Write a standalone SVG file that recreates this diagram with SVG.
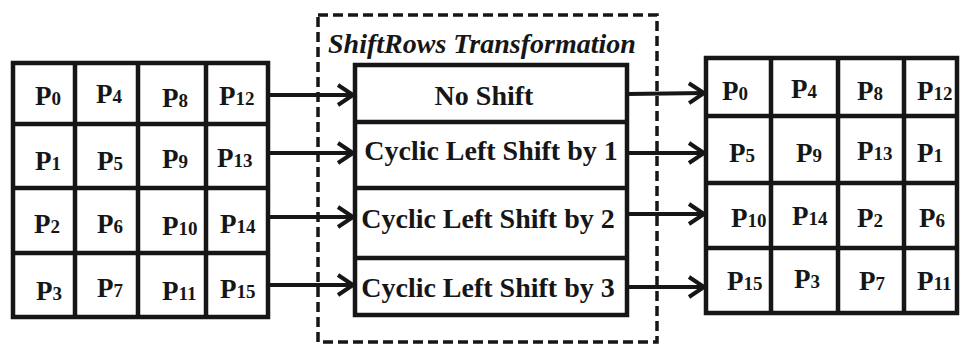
<svg xmlns="http://www.w3.org/2000/svg" width="961" height="345" viewBox="0 0 961 345">
<style>
.bg{fill:#ffffff}
.grid{fill:#ffffff;stroke:#161616;stroke-width:4.5}
.div{stroke:#161616;stroke-width:4.5}
.dash{fill:none;stroke:#161616;stroke-width:3.5;stroke-dasharray:10 5}
.conn{stroke:#161616;stroke-width:4;fill:none}
.p{font-family:"Liberation Serif","Times New Roman",serif;font-weight:bold;font-size:27px;fill:#161616}
.p tspan{font-size:19px}
.lbl{font-family:"Liberation Serif","Times New Roman",serif;font-weight:bold;font-size:28px;fill:#161616;text-anchor:middle}
.title{font-family:"Liberation Serif","Times New Roman",serif;font-weight:bold;font-style:italic;font-size:28px;fill:#161616}
</style>
<defs>
<marker id="ah" markerWidth="24" markerHeight="26" refX="19" refY="12" orient="auto" markerUnits="userSpaceOnUse">
<path d="M3,2 L18,12 L3,22" fill="none" stroke="#161616" stroke-width="4"/>
</marker>
</defs>
<rect class="bg" x="0" y="0" width="961" height="345"/>

<g id="input-state">
<rect class="grid" x="13" y="63" width="255" height="254"/>
<line class="div" x1="75" y1="63" x2="75" y2="317"/>
<line class="div" x1="138" y1="63" x2="138" y2="317"/>
<line class="div" x1="206" y1="63" x2="206" y2="317"/>
<line class="div" x1="13" y1="124" x2="268" y2="124"/>
<line class="div" x1="13" y1="188" x2="268" y2="188"/>
<line class="div" x1="13" y1="253" x2="268" y2="253"/>
<text class="p" x="35" y="105">P<tspan>0</tspan></text>
<text class="p" x="96" y="103">P<tspan>4</tspan></text>
<text class="p" x="162" y="107">P<tspan>8</tspan></text>
<text class="p" x="219" y="105">P<tspan>12</tspan></text>
<text class="p" x="35" y="170">P<tspan>1</tspan></text>
<text class="p" x="97" y="170">P<tspan>5</tspan></text>
<text class="p" x="162" y="168">P<tspan>9</tspan></text>
<text class="p" x="217" y="167">P<tspan>13</tspan></text>
<text class="p" x="34" y="233">P<tspan>2</tspan></text>
<text class="p" x="97" y="233">P<tspan>6</tspan></text>
<text class="p" x="162" y="235">P<tspan>10</tspan></text>
<text class="p" x="220" y="233">P<tspan>14</tspan></text>
<text class="p" x="36" y="300">P<tspan>3</tspan></text>
<text class="p" x="97" y="297">P<tspan>7</tspan></text>
<text class="p" x="162" y="300">P<tspan>11</tspan></text>
<text class="p" x="220" y="298">P<tspan>15</tspan></text>
</g>

<g id="shiftrows">
<rect class="dash" x="318" y="15" width="339" height="327"/>
<text class="title" x="328" y="53">ShiftRows Transformation</text>
<rect class="grid" x="355" y="65" width="272" height="250"/>
<line class="div" x1="355" y1="122" x2="627" y2="122"/>
<line class="div" x1="355" y1="188" x2="627" y2="188"/>
<line class="div" x1="355" y1="258" x2="627" y2="258"/>
<text class="lbl" x="484" y="105">No Shift</text>
<text class="lbl" x="491" y="160">Cyclic Left Shift by 1</text>
<text class="lbl" x="488" y="228">Cyclic Left Shift by 2</text>
<text class="lbl" x="488" y="297">Cyclic Left Shift by 3</text>
</g>

<g id="output-state">
<rect class="grid" x="706" y="58" width="251" height="255"/>
<line class="div" x1="771" y1="58" x2="771" y2="313"/>
<line class="div" x1="838" y1="58" x2="838" y2="313"/>
<line class="div" x1="904" y1="58" x2="904" y2="313"/>
<line class="div" x1="706" y1="116" x2="957" y2="116"/>
<line class="div" x1="706" y1="183" x2="957" y2="183"/>
<line class="div" x1="706" y1="248" x2="957" y2="248"/>
<text class="p" x="722" y="100">P<tspan>0</tspan></text>
<text class="p" x="791" y="98">P<tspan>4</tspan></text>
<text class="p" x="857" y="100">P<tspan>8</tspan></text>
<text class="p" x="917" y="100">P<tspan>12</tspan></text>
<text class="p" x="729" y="162">P<tspan>5</tspan></text>
<text class="p" x="796" y="162">P<tspan>9</tspan></text>
<text class="p" x="857" y="160">P<tspan>13</tspan></text>
<text class="p" x="917" y="162">P<tspan>1</tspan></text>
<text class="p" x="731" y="227">P<tspan>10</tspan></text>
<text class="p" x="792" y="225">P<tspan>14</tspan></text>
<text class="p" x="857" y="227">P<tspan>2</tspan></text>
<text class="p" x="919" y="227">P<tspan>6</tspan></text>
<text class="p" x="727" y="290">P<tspan>15</tspan></text>
<text class="p" x="794" y="288">P<tspan>3</tspan></text>
<text class="p" x="859" y="290">P<tspan>7</tspan></text>
<text class="p" x="917" y="290">P<tspan>11</tspan></text>
</g>

<g id="connectors">
<line class="conn" x1="268" y1="95" x2="354" y2="95" marker-end="url(#ah)"/>
<line class="conn" x1="268" y1="153" x2="354" y2="153" marker-end="url(#ah)"/>
<line class="conn" x1="268" y1="217" x2="354" y2="217" marker-end="url(#ah)"/>
<line class="conn" x1="268" y1="285" x2="354" y2="285" marker-end="url(#ah)"/>
<line class="conn" x1="627" y1="94" x2="705" y2="93" marker-end="url(#ah)"/>
<line class="conn" x1="627" y1="153" x2="705" y2="153" marker-end="url(#ah)"/>
<line class="conn" x1="627" y1="214" x2="705" y2="214" marker-end="url(#ah)"/>
<line class="conn" x1="627" y1="287" x2="705" y2="287" marker-end="url(#ah)"/>
</g>
</svg>
